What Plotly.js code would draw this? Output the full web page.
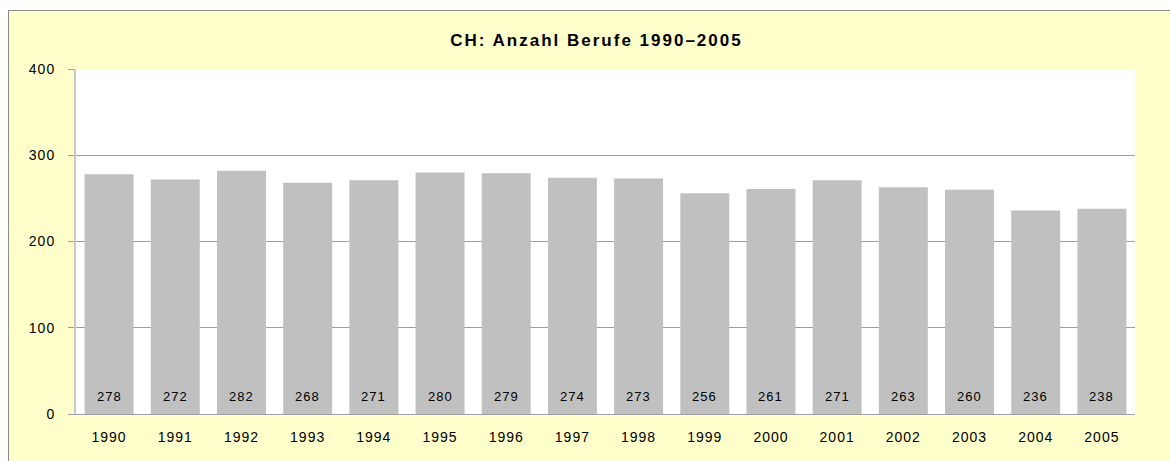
<!DOCTYPE html>
<html>
<head>
<meta charset="utf-8">
<script src="https://cdn.plot.ly/plotly-3.0.1.min.js"></script>
<style>
  html, body { margin: 0; padding: 0; background: #ffffff; width: 1170px; height: 461px; overflow: hidden; }
  #frame { position: absolute; left: 8px; top: 10px; width: 1161px; height: 450px; border-left: 1px solid #8c8c8c; border-top: 1px solid #8c8c8c; background: #FFFFCC; }
  #chart { width: 1161px; height: 450px; }
  .gtitle { letter-spacing: 2px; }
  .xtick text, .ytick text { letter-spacing: 1px; }
  .annotation-text { letter-spacing: 1px; }
</style>
</head>
<body>
<div id="frame"><div id="chart"></div></div>
<script>
const years = ['1990','1991','1992','1993','1994','1995','1996','1997','1998','1999','2000','2001','2002','2003','2004','2005'];
const berufe = [278, 272, 282, 268, 271, 280, 279, 274, 273, 256, 261, 271, 263, 260, 236, 238];
const yTicks = [0, 100, 200, 300, 400];
const chartTitle = 'CH: Anzahl Berufe 1990–2005';

const font = 'Liberation Sans, Arial, sans-serif';

const trace = {
  type: 'bar',
  x: years,
  y: berufe,
  marker: { color: '#C0C0C0', line: { width: 0 } },
  hoverinfo: 'x+y'
};

// value labels: placed at each category index (the category axis position), at the bar base
const annotations = years.map((yr, i) => ({
  x: i, y: 0, xref: 'x', yref: 'y',
  text: String(berufe[i]),
  showarrow: false,
  yanchor: 'bottom',
  yshift: 8,
  font: { family: font, size: 13, color: '#000000' }
}));

const layout = {
  width: 1161, height: 450,
  paper_bgcolor: '#FFFFCC',
  plot_bgcolor: '#FFFFFF',
  margin: { l: 67, r: 35, t: 58, b: 47 },
  bargap: 0.26,
  showlegend: false,
  title: {
    text: '<b>' + chartTitle + '</b>',
    font: { family: font, size: 17, color: '#000000' },
    x: 0.506, xref: 'container', xanchor: 'center',
    y: 0.935, yref: 'container', yanchor: 'middle'
  },
  xaxis: {
    type: 'category',
    range: [-0.5, years.length - 0.5],
    showgrid: false,
    showline: true, linecolor: '#A0A0A0', linewidth: 1,
    ticks: '',
    ticklabelstandoff: 10,
    tickfont: { family: font, size: 14, color: '#000000' },
    fixedrange: true
  },
  yaxis: {
    range: [0, 400],
    tickvals: yTicks,
    showgrid: true, gridcolor: '#9E9E9E', gridwidth: 1,
    zeroline: false,
    showline: true, linecolor: '#C8C8C8', linewidth: 2,
    ticks: 'outside', ticklen: 6, tickcolor: '#9E9E9E', tickwidth: 1,
    ticklabelstandoff: 10,
    tickfont: { family: font, size: 14, color: '#000000' },
    fixedrange: true
  },
  annotations: annotations
};

Plotly.newPlot('chart', [trace], layout, { displayModeBar: false, staticPlot: true });
</script>
</body>
</html>
